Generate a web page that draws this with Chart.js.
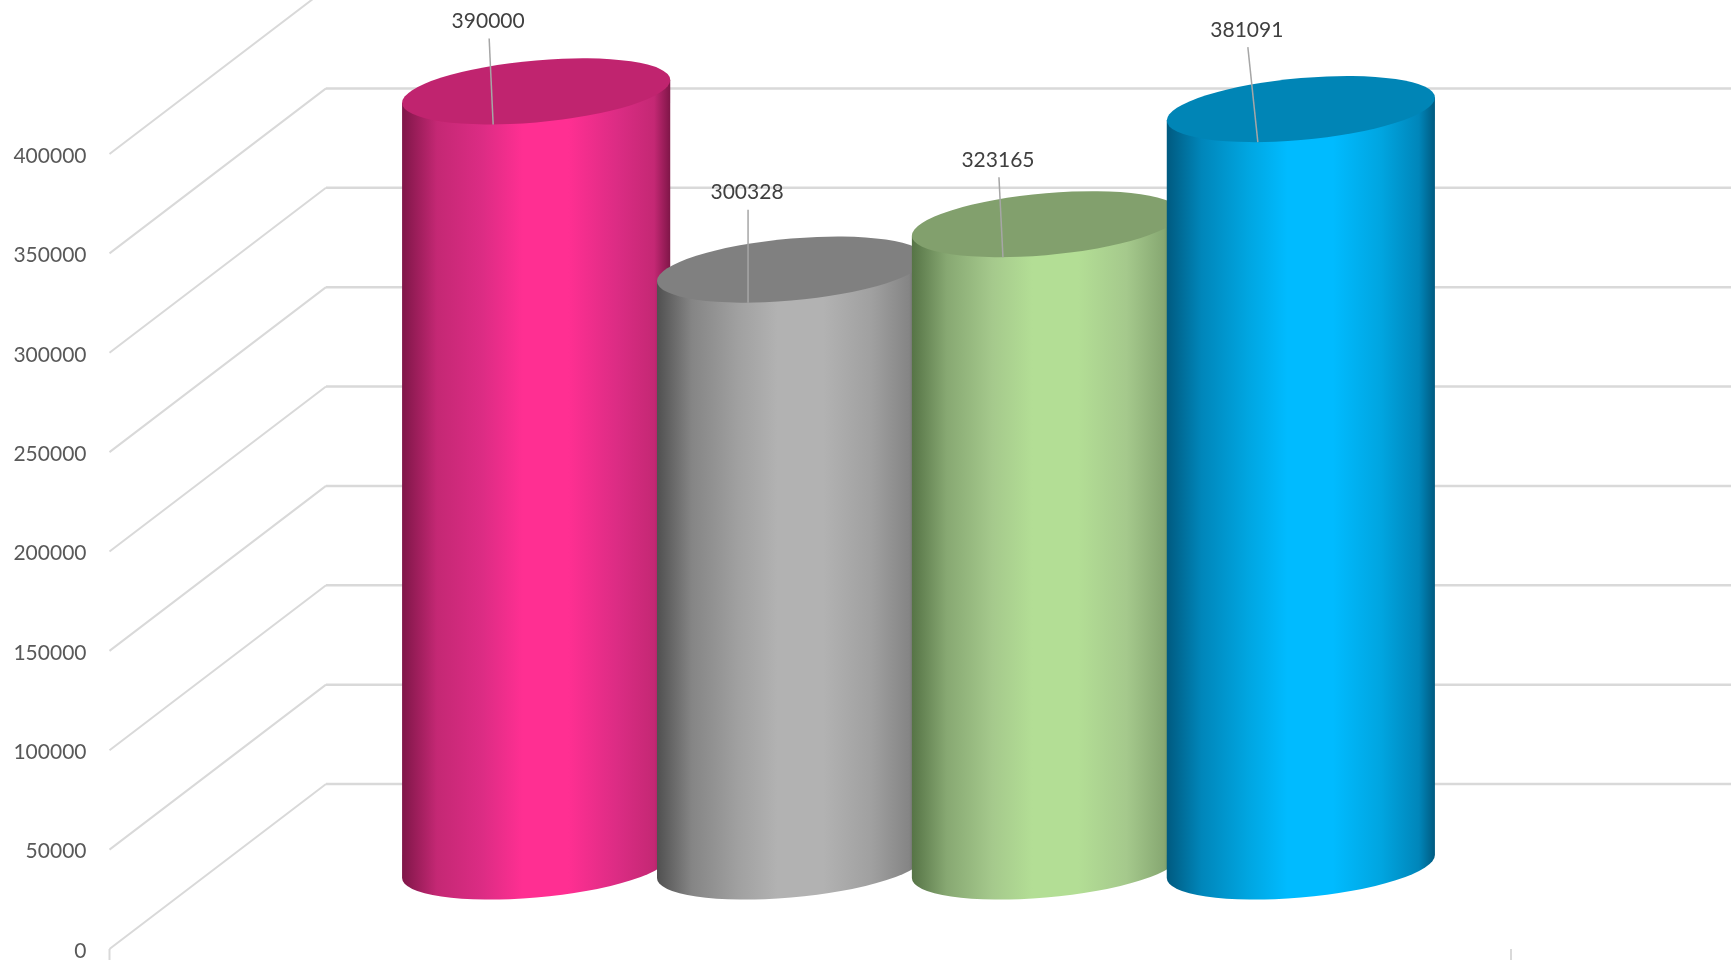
<!DOCTYPE html>
<html>
<head>
<meta charset="utf-8">
<title>Chart</title>
<script src="https://cdn.jsdelivr.net/npm/chart.js@4/dist/chart.umd.min.js"></script>
<style>
  html, body { margin: 0; padding: 0; background: #fff; overflow: hidden; }
  canvas { display: block; }
</style>
</head>
<body>
<canvas id="myChart" width="1731" height="960"></canvas>
<script>
'use strict';

var categories = [''];
var seriesNames = ['Series 1', 'Series 2', 'Series 3', 'Series 4'];
var seriesValues = [390000, 300328, 323165, 381091];
var tickStep = 50000;
var tickMax = 400000;

var edgeColors = ['#7f1648', '#505050', '#567446', '#005a80'];
var lowColors = ['#c42874', '#858585', '#87a872', '#0086ba'];
var midColors = ['#dc2c84', '#a0a0a0', '#a5c98c', '#00a5e0'];
var centerColors = ['#ff2f92', '#b2b2b2', '#b3de95', '#00bbff'];
var topColors = ['#c0246f', '#808080', '#82a06d', '#0085b6'];

// hand placed leader line tops, relative to the point on the rim
var leaderOffsets = [[-4, -86], [0, -93], [-4, -80], [-10, -95]];

var depthX = 216.5;
var depthY = 165;
var skew = 11.5;
var capHeight = 31;
var gridColor = '#d9d9d9';

function drawWalls(chart) {
    var ctx = chart.ctx;
    var y = chart.scales.y;
    var left = chart.chartArea.left;
    var right = chart.chartArea.right;
    ctx.save();
    ctx.strokeStyle = gridColor;
    y.ticks.forEach(function (t) {
        var py = y.getPixelForValue(t.value);
        ctx.lineWidth = 2;
        ctx.beginPath();
        ctx.moveTo(left, py);
        ctx.lineTo(left + depthX, py - depthY);
        ctx.stroke();
        ctx.lineWidth = 2.5;
        ctx.beginPath();
        ctx.moveTo(left + depthX, py - depthY);
        ctx.lineTo(chart.width, py - depthY);
        ctx.stroke();
    });
    // floor ticks
    ctx.lineWidth = 2;
    [left, right].forEach(function (x) {
        ctx.beginPath();
        ctx.moveTo(x, y.bottom);
        ctx.lineTo(x, chart.height);
        ctx.stroke();
    });
    ctx.restore();
}

function drawCylinder(ctx, bar, i) {
    var a = bar.width / 2;
    var cx = bar.x + depthX / 2;
    var topY = bar.y - depthY / 2;
    var baseY = bar.base - depthY / 2;
    var height = baseY - topY;

    var grad = ctx.createLinearGradient(cx - a, 0, cx + a, 0);
    grad.addColorStop(0, edgeColors[i]);
    grad.addColorStop(0.13, lowColors[i]);
    grad.addColorStop(0.3, midColors[i]);
    grad.addColorStop(0.45, centerColors[i]);
    grad.addColorStop(0.62, centerColors[i]);
    grad.addColorStop(0.8, midColors[i]);
    grad.addColorStop(0.94, lowColors[i]);
    grad.addColorStop(1, edgeColors[i]);

    ctx.save();
    ctx.transform(1, -skew / a, 0, 1, cx, baseY);
    ctx.beginPath();
    ctx.ellipse(0, 0, a, capHeight, 0, Math.PI, 0, true);
    ctx.lineTo(a, -height);
    ctx.lineTo(-a, -height);
    ctx.closePath();
    ctx.restore();
    ctx.fillStyle = grad;
    ctx.fill();

    ctx.save();
    ctx.transform(1, -skew / a, 0, 1, cx, topY);
    ctx.beginPath();
    ctx.ellipse(0, 0, a, capHeight, 0, 0, Math.PI * 2);
    ctx.restore();
    ctx.fillStyle = topColors[i];
    ctx.fill();
}

function drawValueLabel(ctx, bar, i) {
    var reach = Math.sqrt(skew * skew + capHeight * capHeight);
    var rimX = bar.x + depthX / 2 - 43;
    var rimY = bar.y - depthY / 2 + reach;
    var topX = rimX + leaderOffsets[i][0];
    var topY = rimY + leaderOffsets[i][1];
    ctx.save();
    ctx.strokeStyle = '#a6a6a6';
    ctx.lineWidth = 1.5;
    ctx.beginPath();
    ctx.moveTo(topX, topY);
    ctx.lineTo(rimX, rimY);
    ctx.stroke();
    ctx.fillStyle = '#404040';
    ctx.font = '21px Lato';
    ctx.textAlign = 'center';
    ctx.textBaseline = 'middle';
    ctx.fillText(String(seriesValues[i]), topX - 1, topY - 17);
    ctx.restore();
}

var cylinders = {
    id: 'cylinders',
    beforeDatasetsDraw: function (chart) {
        var ctx = chart.ctx;
        drawWalls(chart);
        var bars = seriesValues.map(function (v, i) {
            return chart.getDatasetMeta(i).data[0];
        });
        bars.forEach(function (bar, i) { drawCylinder(ctx, bar, i); });
        bars.forEach(function (bar, i) { drawValueLabel(ctx, bar, i); });
        return false;
    }
};

var datasets = seriesValues.map(function (v, i) {
    return {
        label: seriesNames[i],
        data: [v],
        backgroundColor: centerColors[i],
        categoryPercentage: 0.7275,
        barPercentage: 1.052
    };
});

var ctx = document.getElementById('myChart').getContext('2d');
window.myBar = new Chart(ctx, {
    type: 'bar',
    data: { labels: categories, datasets: datasets },
    plugins: [cylinders],
    options: {
        responsive: false,
        animation: false,
        layout: { padding: { top: 154, bottom: 11, right: 220, left: 0 } },
        plugins: { legend: { display: false }, tooltip: { enabled: false } },
        scales: {
            x: { display: false },
            y: {
                min: 0,
                max: tickMax,
                afterFit: function (scale) { scale.width = 109.5; },
                grid: { display: false, tickLength: 23 },
                border: { display: false },
                ticks: {
                    stepSize: tickStep,
                    padding: 0,
                    labelOffset: 2,
                    color: '#595959',
                    font: { family: 'Lato', size: 21, lineHeight: 1 },
                    callback: function (value) { return String(value); }
                }
            }
        }
    }
});
</script>
</body>
</html>
